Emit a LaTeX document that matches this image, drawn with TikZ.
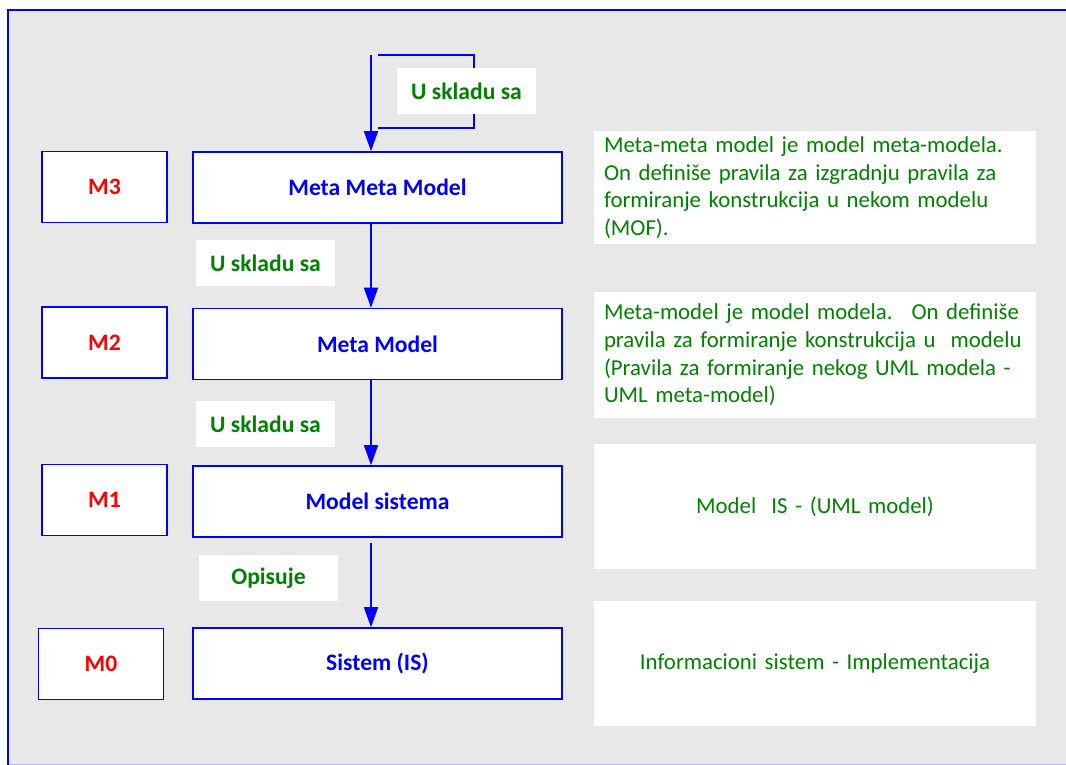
\documentclass[tikz,border=0pt]{standalone}
\usepackage{fontspec}
\setmainfont{Carlito}
\usetikzlibrary{arrows.meta}
\definecolor{framegray}{RGB}{232,232,232}
\definecolor{mblue}{RGB}{0,0,255}
\definecolor{mred}{RGB}{255,0,0}
\definecolor{mgreen}{RGB}{0,130,0}
\newcommand{\bigfont}{\fontsize{22.8}{27.6}\selectfont}
\newcommand{\boldfont}{\fontsize{23.6}{27.6}\selectfont\bfseries}

\begin{document}
\begin{tikzpicture}[x=1pt,y=-1pt,
    levelbox/.style={draw=mblue, line width=1.6pt, fill=white,
        minimum width=125, minimum height=71, text=mred, font=\boldfont},
    modelbox/.style={draw=mblue, line width=1.6pt, fill=white,
        minimum width=369, minimum height=71, text=mblue, font=\boldfont},
    relbox/.style={fill=white, minimum width=139, minimum height=46,
        text=mgreen, font=\boldfont},
    notebox/.style={fill=white, inner xsep=10pt, text width=422,
        minimum height=125, text=mgreen, font=\bigfont},
    flow/.style={draw=mblue, line width=1.6pt, -{Triangle[length=20pt,width=14pt]}}]
    \useasboundingbox (0,0) rectangle (1066,765);
    \clip (0,0) rectangle (1066,765);
    \fill[white] (0,0) rectangle (1066,765);
    \filldraw[fill=framegray, draw=mblue!30, line width=1.8pt] (8,10) rectangle (1080,765);
    \draw[mblue, line width=1.8pt] (8,765) -- (8,10) -- (1080,10);

    \begin{scope} % Levels and models
        \foreach \lvl/\x/\y in {3/104.5/187, 2/104.5/342.5, 1/104.5/500, 0/101/664}
            \node[levelbox] (m\lvl) at (\x,\y) {M\lvl};
        \node[modelbox] (c3) at (377.5,187.5) {Meta Meta Model};
        \node[modelbox] (c2) at (377.5,344) {Meta Model};
        \node[modelbox] (c1) at (377.5,501.5) {Model sistema};
        \node[modelbox] (c0) at (377.5,663.5) {Sistem (IS)};
    \end{scope}

    \begin{scope} % Relations
        \coordinate (looptop) at (371,55);
        \draw[flow] (looptop) -- (looptop |- c3.north);
        \draw[mblue, line width=1.6pt] (378,55) -- (474,55) -- (474,128) -- (378,128);
        \draw[flow] ([xshift=-6.5]c3.south) -- ([xshift=-6.5]c2.north);
        \draw[flow] ([xshift=-6.5]c2.south) -- ([xshift=-6.5]c1.north);
        \draw[flow, shorten <=5pt] ([xshift=-6.5]c1.south) -- ([xshift=-6.5]c0.north);
        \node[relbox] (r3) at (466.5,91.5) {U skladu sa};
        \node[relbox] (r2) at (265.5,263) {U skladu sa};
        \node[relbox] (r1) at (265.5,424) {U skladu sa};
        \node[relbox] (r0) at (268.5,578) {Opisuje};
    \end{scope}

    \begin{scope} % Descriptions
        \node[notebox, align=left, minimum height=113] (d3) at (815,187.5)
            {Meta-meta model je model meta-modela.\\
             On definiše pravila za izgradnju pravila za\\
             formiranje konstrukcija u nekom modelu\\
             (MOF).};
        \node[notebox, align=left, minimum height=126] (d2) at (815,355)
            {Meta-model je model modela.~ On definiše\\
             pravila za formiranje konstrukcija u~ modelu\\
             (Pravila za formiranje nekog UML modela -\\
             UML meta-model)};
        \node[notebox, align=center] (d1) at (815,506.5) {Model~ IS - (UML model)};
        \node[notebox, align=center] (d0) at (815,663.5) {Informacioni sistem - Implementacija};
    \end{scope}
\end{tikzpicture}
\end{document}
